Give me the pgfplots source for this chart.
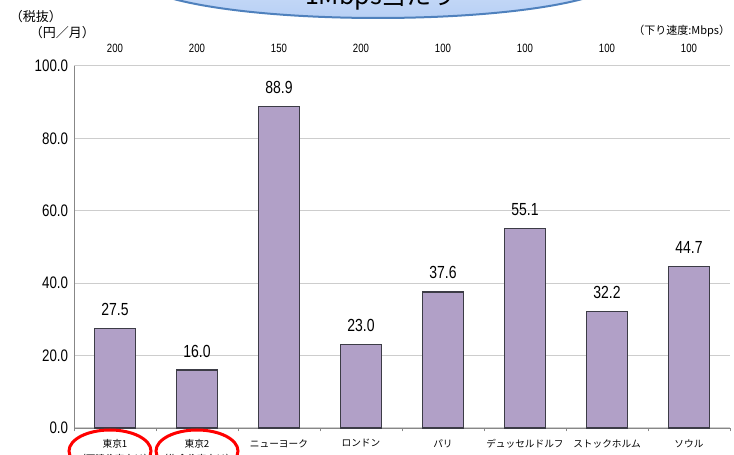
\documentclass[border=0pt]{standalone}
\usepackage{pgfplots}
\pgfplotsset{compat=1.18}
\usepackage{fontspec}
\setmainfont{Noto Sans CJK JP}
\newfontfamily\numfont{Liberation Sans}[FakeStretch=0.8]
\definecolor{barfill}{RGB}{177,160,199}
\definecolor{baredge}{RGB}{60,60,70}
\definecolor{gridc}{RGB}{205,205,205}
\definecolor{axisc}{RGB}{135,135,135}
\definecolor{elltop}{RGB}{222,234,252}
\definecolor{ellbot}{RGB}{184,208,245}
\definecolor{elledge}{RGB}{79,129,189}
\begin{document}
\begin{tikzpicture}[x=0.6pt,y=0.6pt]
\useasboundingbox (0,0) rectangle (734,455);
\begin{scope}
\clip (0,0) rectangle (734,455);
\shade[top color=elltop, bottom color=ellbot, draw=elledge, line width=1.2pt] (378,477) ellipse [x radius=240, y radius=40];
\node[anchor=base, font=\fontsize{15}{15}\selectfont\color{black}] at (381,450) {1Mbps当たり};
\begin{axis}[
  at={(69pt,16.2pt)}, anchor=origin,
  width=393.6pt, height=217.2pt, scale only axis,
  ybar, bar width=24.6pt,
  xmin=-0.5, xmax=7.5, ymin=0, ymax=100,
  ytick={0,20,40,60,80,100},
  yticklabel style={font=\fontsize{10}{10}\numfont, /pgf/number format/.cd, fixed, fixed zerofill, precision=1, assume math mode=true},
  xtick={0,...,7},
  xticklabels={{東京1\\（戸建住宅向け）},{東京2\\（集合住宅向け）},ニューヨーク,ロンドン,パリ,デュッセルドルフ,ストックホルム,ソウル},
  xticklabel style={font=\fontsize{5.8}{9}\selectfont, align=center, anchor=north, yshift=1pt},
  major x tick style={draw=none},
  minor xtick={-0.5,0.5,...,7.5},
  minor x tick style={axisc},
  minor tick length=2pt,
  ytick style={draw=none},
  axis x line*=bottom, axis y line*=left,
  axis line style={axisc, -},
  ymajorgrids, grid style={gridc, line width=0.6pt},
  nodes near coords,
  every node near coord/.append style={font=\fontsize{10.5}{10.5}\numfont, yshift=4pt, /pgf/number format/.cd, fixed, fixed zerofill, precision=1, assume math mode=true},
  clip=false,
]
\addplot[fill=barfill, draw=baredge, line width=0.8pt] coordinates {
(0,27.5) (1,16.0) (2,88.9) (3,23.0) (4,37.6) (5,55.1) (6,32.2) (7,44.7)};
\end{axis}
\foreach \i/\v in {0/200,1/200,2/150,3/200,4/100,5/100,6/100,7/100} {
  \node[font=\fontsize{7.2}{7.2}\numfont] at (115+82*\i,407) {\v};
}
\node[anchor=west, font=\fontsize{7.8}{8}\selectfont] at (4,438) {（税抜）};
\node[anchor=west, font=\fontsize{7.8}{8}\selectfont] at (24,422) {（円／月）};
\node[anchor=east, font=\fontsize{6.6}{8}\selectfont] at (736,424) {（下り速度:Mbps）};
\draw[red, line width=1.8pt] (110,4) ellipse [x radius=41, y radius=21];
\draw[red, line width=1.8pt] (197,4) ellipse [x radius=41, y radius=21];
\end{scope}
\end{tikzpicture}
\end{document}
